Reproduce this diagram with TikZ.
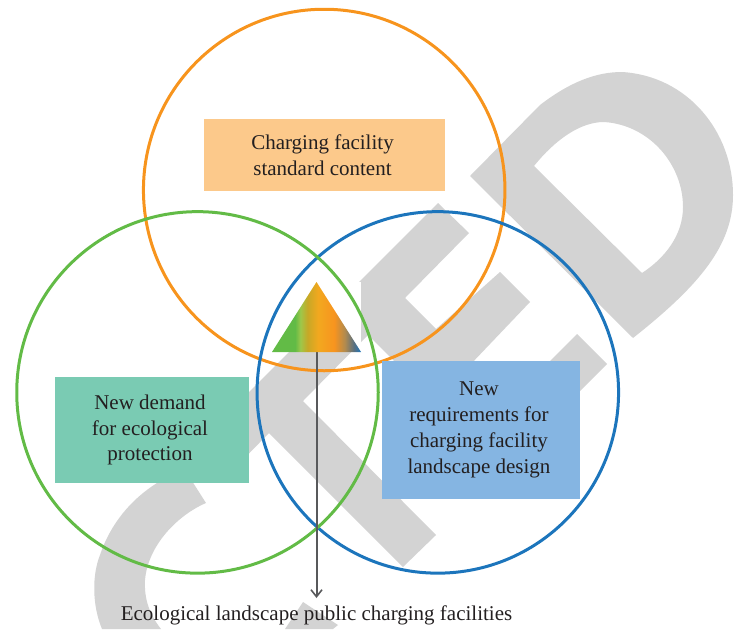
\documentclass[tikz,border=0pt]{standalone}
\usepackage{fontspec}
\setmainfont{Liberation Serif}
\usetikzlibrary{arrows.meta}
\definecolor{wm}{HTML}{D3D3D3}
\definecolor{ringO}{HTML}{F7941D}
\definecolor{ringG}{HTML}{62BB46}
\definecolor{ringB}{HTML}{1C75BC}
\definecolor{boxO}{HTML}{FCC98B}
\definecolor{boxG}{HTML}{7ACBB3}
\definecolor{boxB}{HTML}{85B5E2}
\definecolor{ink}{HTML}{231F20}
\definecolor{arrowgray}{HTML}{58595B}
\newcommand{\nudgeL}{\hspace*{-4pt}}
\pgfdeclarehorizontalshading{tricolors}{100bp}{
 rgb(0bp)=(0.384,0.733,0.275);
 rgb(25bp)=(0.384,0.733,0.275);
 rgb(38bp)=(0.384,0.733,0.275);
 rgb(41bp)=(0.62,0.78,0.29);
 rgb(45bp)=(0.78,0.66,0.15);
 rgb(51bp)=(0.95,0.66,0.12);
 rgb(60bp)=(0.97,0.58,0.12);
 rgb(66bp)=(0.69,0.54,0.31);
 rgb(71bp)=(0.35,0.44,0.50);
 rgb(75bp)=(0.11,0.46,0.74);
 rgb(100bp)=(0.11,0.46,0.74)}
\tikzset{
 x=1pt,y=-1pt,
 ring/.style={circle,draw=#1,line width=3pt,minimum size=361.5pt,inner sep=0pt,outer sep=0pt},
 labelbox/.style={rectangle,fill=#1,inner sep=0pt,outer sep=0pt,text=ink,align=center,font=\fontsize{21}{25.8}\selectfont},
 caption/.style={text=ink,inner sep=0pt,font=\fontsize{21}{25.8}\selectfont},
 flow/.style={draw=arrowgray,line width=2pt,-{Straight Barb[length=7pt,width=11pt,line width=1.6pt]}}
}
\begin{document}
\begin{tikzpicture}
\useasboundingbox (0,0) rectangle (738,629);
% watermark
\fill[wm,even odd rule] (470,176) -- (540,105) .. controls (570,82) and (596,72) .. (622,72) .. controls (688,76) and (733,132) .. (733,195) .. controls (733,245) and (700,285) .. (633,338) -- cycle
 (534,166) .. controls (555,140) and (580,122) .. (604,122) .. controls (650,125) and (683,165) .. (683,207) .. controls (683,235) and (665,258) .. (642,273) -- cycle;
\fill[wm] (438,203) -- (469,233) -- (405,298) -- (436,329) -- (500,272) -- (530,302) -- (470,365) -- (432,399) -- (368,335) -- (303,401) -- (436,535) -- (403,567) -- (269,433) -- (230,473) -- (190,451) -- cycle;
\fill[wm] (577,334) -- (607,364) -- (540,431) -- (510,401) -- cycle;
\fill[wm] (185,470) -- (206,503) .. controls (178,515) and (148,545) .. (145,580) .. controls (144,600) and (150,615) .. (161,629) -- (102,629) .. controls (92,605) and (92,575) .. (100,555) .. controls (110,525) and (130,500) .. (157,483) -- (165,470) -- cycle;
\fill[wm] (285,629) -- (303,602) -- (338,625) -- (333,629) -- cycle;
\fill[white] (272,282) rectangle (361,352);
% rings
\node[ring=ringO] (orangering) at (324.2,190) {};
\node[ring=ringB] (bluering) at (437.8,392.4) {};
\node[ring=ringG] (greenring) at (197.5,392.4) {};
% boxes
\node[labelbox=boxO,minimum width=241pt,minimum height=72pt] (standard) at (324.5,155) {\nudgeL Charging facility\\\nudgeL standard content};
\node[labelbox=boxG,minimum width=194pt,minimum height=106pt] (demand) at (152,430) {\nudgeL New demand\\\nudgeL for ecological\\\nudgeL protection};
\node[labelbox=boxB,minimum width=198pt,minimum height=138pt] (requirements) at (481,430) {\nudgeL New\\\nudgeL requirements for\\\nudgeL charging facility\\\nudgeL landscape design};
% triangle
\coordinate (apex) at (316.5,282);
\coordinate (baseL) at (272,352);
\coordinate (baseR) at (361,352);
\coordinate (baseM) at (316.5,352);
\coordinate (arrowend) at (316.5,598);
\node[caption] (result) at (316.5,615.5) {Ecological landscape public charging facilities};
\draw[flow] (baseM) -- (arrowend);
\shade[shading=tricolors] (baseL) -- (apex) -- (baseR) -- cycle;
\end{tikzpicture}
\end{document}
